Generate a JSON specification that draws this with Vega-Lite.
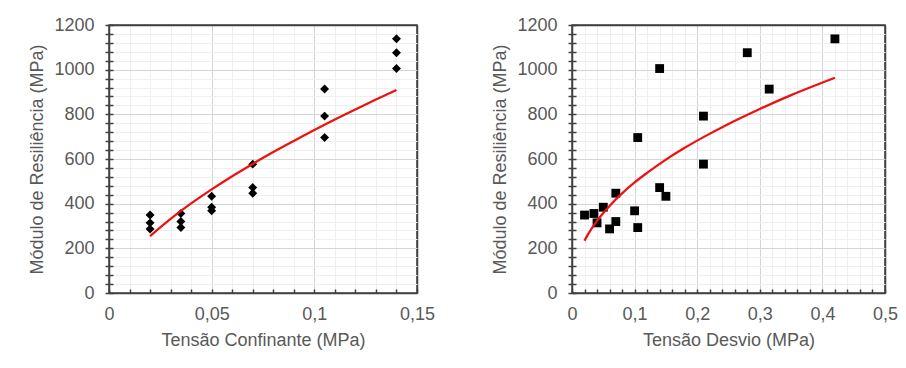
{
  "$schema": "https://vega.github.io/schema/vega-lite/v6.json",
  "padding": {"left": 28, "top": 15, "right": 5, "bottom": 5},
  "background": "white",
  "spacing": 55,
  "config": {
    "font": "Liberation Sans",
    "view": {"stroke": "#404040", "strokeWidth": 1.5},
    "axis": {
      "labelFont": "Liberation Sans", "labelFontSize": 18, "labelColor": "#595959",
      "titleFont": "Liberation Sans", "titleFontSize": 18, "titleFontWeight": "normal", "titleColor": "#595959",
      "domainColor": "#404040", "domainWidth": 1.5, "tickColor": "#404040", "tickWidth": 1.5,
      "labelOverlap": false, "labelFlush": false, "gridWidth": 1
    }
  },
  "datasets": {
    "pts": [
      {"sigma3": 0.02, "sigmad": 0.02, "mr": 349},
      {"sigma3": 0.02, "sigmad": 0.04, "mr": 314},
      {"sigma3": 0.02, "sigmad": 0.06, "mr": 287},
      {"sigma3": 0.035, "sigmad": 0.035, "mr": 356},
      {"sigma3": 0.035, "sigmad": 0.07, "mr": 320},
      {"sigma3": 0.035, "sigmad": 0.105, "mr": 293},
      {"sigma3": 0.05, "sigmad": 0.05, "mr": 384},
      {"sigma3": 0.05, "sigmad": 0.1, "mr": 368},
      {"sigma3": 0.05, "sigmad": 0.15, "mr": 433},
      {"sigma3": 0.07, "sigmad": 0.07, "mr": 447},
      {"sigma3": 0.07, "sigmad": 0.14, "mr": 472},
      {"sigma3": 0.07, "sigmad": 0.21, "mr": 577},
      {"sigma3": 0.105, "sigmad": 0.105, "mr": 696},
      {"sigma3": 0.105, "sigmad": 0.21, "mr": 792},
      {"sigma3": 0.105, "sigmad": 0.315, "mr": 913},
      {"sigma3": 0.14, "sigmad": 0.14, "mr": 1005},
      {"sigma3": 0.14, "sigmad": 0.28, "mr": 1076},
      {"sigma3": 0.14, "sigmad": 0.42, "mr": 1138}
    ],
    "fitL": [
      {"s": 0.02, "mr": 255}, {"s": 0.03, "mr": 332}, {"s": 0.04, "mr": 401},
      {"s": 0.05, "mr": 464}, {"s": 0.06, "mr": 523}, {"s": 0.07, "mr": 578},
      {"s": 0.08, "mr": 631}, {"s": 0.09, "mr": 681}, {"s": 0.1, "mr": 730},
      {"s": 0.11, "mr": 777}, {"s": 0.12, "mr": 822}, {"s": 0.13, "mr": 866},
      {"s": 0.14, "mr": 909}
    ],
    "fitR": [
      {"s": 0.02, "mr": 234}, {"s": 0.025, "mr": 260}, {"s": 0.03, "mr": 283},
      {"s": 0.04, "mr": 323}, {"s": 0.05, "mr": 358}, {"s": 0.06, "mr": 390},
      {"s": 0.08, "mr": 446}, {"s": 0.1, "mr": 495}, {"s": 0.12, "mr": 538},
      {"s": 0.15, "mr": 597}, {"s": 0.18, "mr": 650}, {"s": 0.21, "mr": 698},
      {"s": 0.25, "mr": 757}, {"s": 0.3, "mr": 824}, {"s": 0.35, "mr": 886},
      {"s": 0.42, "mr": 964}
    ]
  },
  "hconcat": [
    {
      "width": 308,
      "height": 268,
      "layer": [
        {
          "data": {"name": "pts"},
          "mark": {"type": "point", "shape": "diamond", "filled": true, "color": "#000000", "size": 80, "opacity": 1},
          "encoding": {
            "x": {
              "field": "sigma3", "type": "quantitative",
              "scale": {"domain": [0, 0.15], "nice": false, "zero": false},
              "axis": {
                "title": "Tensão Confinante (MPa)",
                "values": [0, 0.01, 0.02, 0.03, 0.04, 0.05, 0.06, 0.07, 0.08, 0.09, 0.1, 0.11, 0.12, 0.13, 0.14, 0.15],
                "labelExpr": "abs(datum.value*20 - round(datum.value*20)) < 1e-6 ? replace(format(datum.value, '~g'), '.', ',') : ''",
                "grid": true,
                "gridColor": {"condition": [{"test": "datum.value >= 0.1499", "value": "#404040"}, {"test": "abs(datum.value*20 - round(datum.value*20)) < 1e-6", "value": "#d4d4d4"}], "value": "#efefef"},
                "gridWidth": {"condition": {"test": "datum.value >= 0.1499", "value": 1.5}, "value": 1},
                "ticks": false, "labelPadding": 12, "titlePadding": 8
              }
            },
            "y": {
              "field": "mr", "type": "quantitative",
              "scale": {"domain": [0, 1200], "nice": false, "zero": false},
              "axis": {
                "title": "Módulo de Resiliência (MPa)",
                "values": [0, 40, 80, 120, 160, 200, 240, 280, 320, 360, 400, 440, 480, 520, 560, 600, 640, 680, 720, 760, 800, 840, 880, 920, 960, 1000, 1040, 1080, 1120, 1160, 1200],
                "labelExpr": "datum.value % 200 === 0 ? format(datum.value, 'd') : ''",
                "grid": true,
                "gridColor": {"condition": [{"test": "datum.value === 1200", "value": "#404040"}, {"test": "datum.value % 200 === 0", "value": "#d4d4d4"}], "value": "#efefef"},
                "gridWidth": {"condition": {"test": "datum.value === 1200", "value": 1.5}, "value": 1},
                "tickSize": 4, "labelPadding": 11, "titlePadding": 7
              }
            }
          }
        },
        {
          "data": {"name": "fitL"},
          "mark": {"type": "line", "color": "#ee1111", "strokeWidth": 2.25, "interpolate": "monotone"},
          "encoding": {
            "x": {
              "field": "s", "type": "quantitative",
              "axis": {"orient": "bottom", "values": [0, 0.01, 0.02, 0.03, 0.04, 0.05, 0.06, 0.07, 0.08, 0.09, 0.1, 0.11, 0.12, 0.13, 0.14, 0.15], "labels": false, "domain": false, "grid": false, "title": null, "tickSize": -4}
            },
            "y": {
              "field": "mr", "type": "quantitative",
              "axis": {"orient": "left", "values": [0, 40, 80, 120, 160, 200, 240, 280, 320, 360, 400, 440, 480, 520, 560, 600, 640, 680, 720, 760, 800, 840, 880, 920, 960, 1000, 1040, 1080, 1120, 1160, 1200], "labels": false, "domain": false, "grid": false, "title": null, "tickSize": -4}
            }
          }
        }
      ],
      "resolve": {"axis": {"x": "independent", "y": "independent"}}
    },
    {
      "width": 313,
      "height": 268,
      "layer": [
        {
          "data": {"name": "pts"},
          "mark": {"type": "point", "shape": "square", "filled": true, "color": "#000000", "size": 78, "opacity": 1},
          "encoding": {
            "x": {
              "field": "sigmad", "type": "quantitative",
              "scale": {"domain": [0, 0.5], "nice": false, "zero": false},
              "axis": {
                "title": "Tensão Desvio (MPa)",
                "values": [0, 0.02, 0.04, 0.06, 0.08, 0.1, 0.12, 0.14, 0.16, 0.18, 0.2, 0.22, 0.24, 0.26, 0.28, 0.3, 0.32, 0.34, 0.36, 0.38, 0.4, 0.42, 0.44, 0.46, 0.48, 0.5],
                "labelExpr": "abs(datum.value*10 - round(datum.value*10)) < 1e-6 ? replace(format(datum.value, '~g'), '.', ',') : ''",
                "grid": true,
                "gridColor": {"condition": [{"test": "datum.value >= 0.4999", "value": "#404040"}, {"test": "abs(datum.value*10 - round(datum.value*10)) < 1e-6", "value": "#d4d4d4"}], "value": "#efefef"},
                "gridWidth": {"condition": {"test": "datum.value >= 0.4999", "value": 1.5}, "value": 1},
                "ticks": false, "labelPadding": 12, "titlePadding": 8
              }
            },
            "y": {
              "field": "mr", "type": "quantitative",
              "scale": {"domain": [0, 1200], "nice": false, "zero": false},
              "axis": {
                "title": "Módulo de Resiliência (MPa)",
                "values": [0, 40, 80, 120, 160, 200, 240, 280, 320, 360, 400, 440, 480, 520, 560, 600, 640, 680, 720, 760, 800, 840, 880, 920, 960, 1000, 1040, 1080, 1120, 1160, 1200],
                "labelExpr": "datum.value % 200 === 0 ? format(datum.value, 'd') : ''",
                "grid": true,
                "gridColor": {"condition": [{"test": "datum.value === 1200", "value": "#404040"}, {"test": "datum.value % 200 === 0", "value": "#d4d4d4"}], "value": "#efefef"},
                "gridWidth": {"condition": {"test": "datum.value === 1200", "value": 1.5}, "value": 1},
                "tickSize": 4, "labelPadding": 11, "titlePadding": 7
              }
            }
          }
        },
        {
          "data": {"name": "fitR"},
          "mark": {"type": "line", "color": "#ee1111", "strokeWidth": 2.25, "interpolate": "monotone"},
          "encoding": {
            "x": {
              "field": "s", "type": "quantitative",
              "axis": {"orient": "bottom", "values": [0, 0.02, 0.04, 0.06, 0.08, 0.1, 0.12, 0.14, 0.16, 0.18, 0.2, 0.22, 0.24, 0.26, 0.28, 0.3, 0.32, 0.34, 0.36, 0.38, 0.4, 0.42, 0.44, 0.46, 0.48, 0.5], "labels": false, "domain": false, "grid": false, "title": null, "tickSize": -4}
            },
            "y": {
              "field": "mr", "type": "quantitative",
              "axis": {"orient": "left", "values": [0, 40, 80, 120, 160, 200, 240, 280, 320, 360, 400, 440, 480, 520, 560, 600, 640, 680, 720, 760, 800, 840, 880, 920, 960, 1000, 1040, 1080, 1120, 1160, 1200], "labels": false, "domain": false, "grid": false, "title": null, "tickSize": -4}
            }
          }
        }
      ],
      "resolve": {"axis": {"x": "independent", "y": "independent"}}
    }
  ]
}
